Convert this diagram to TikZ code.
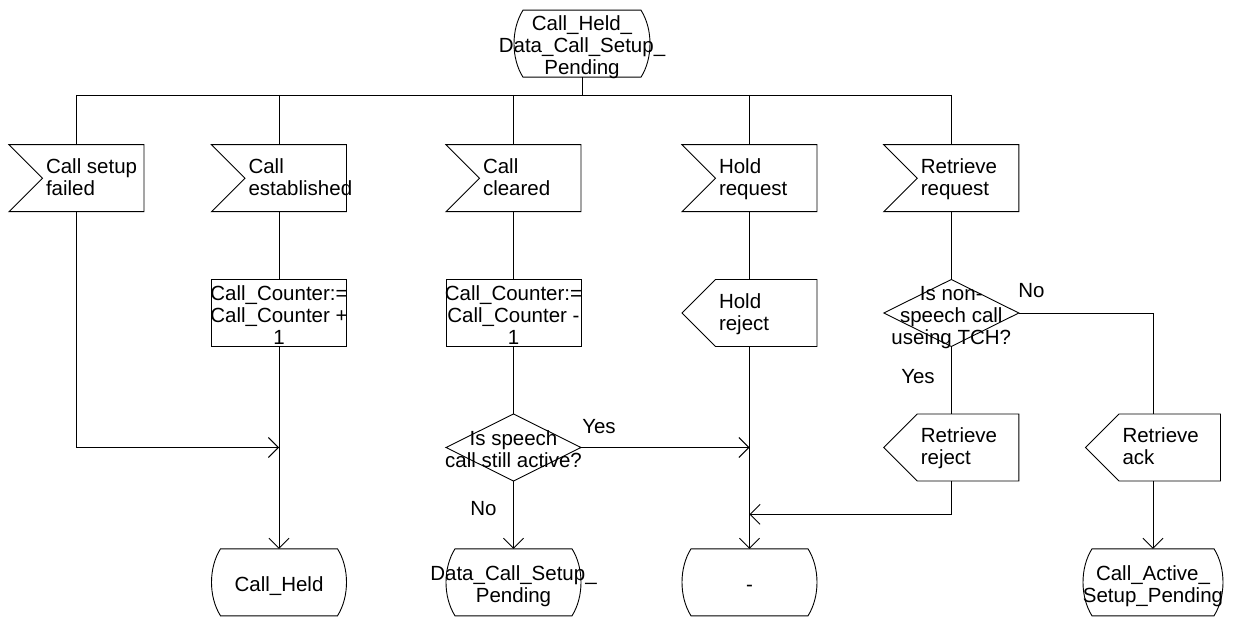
\documentclass[tikz,border=0pt]{standalone}
\usepackage{fontspec}
\setmainfont{Liberation Sans}
\usetikzlibrary{arrows.meta,calc}
\newcommand\ctext[1]{\smash{\makebox[0pt]{\raisebox{-10pt}{\begin{tabular}{@{}c@{}}#1\end{tabular}}}}}
\newcommand\ltext[1]{\smash{\makebox[0pt][l]{\hspace*{-30.5pt}\raisebox{-7pt}{\begin{tabular}{@{}l@{}}#1\end{tabular}}}}}
\newcommand\outSigIn[1]{\draw[shp] (#1.north west) -- (#1.north east) -- (#1.south east) -- (#1.south west) -- ($(#1.west)+(33.5,0)$) -- cycle;}
\newcommand\outSigOut[1]{\draw[shp] ($(#1.north west)+(33.5,0)$) -- (#1.north east) -- (#1.south east) -- ($(#1.south west)+(33.5,0)$) -- (#1.west) -- cycle;}
\newcommand\outDec[1]{\draw[shp] (#1.north) -- (#1.east) -- (#1.south) -- (#1.west) -- cycle;}
\newcommand\outProc[1]{\draw[shp] (#1.north west) rectangle (#1.south east);}
\newcommand\outState[1]{\draw[shp] ($(#1.north west)+(9,0)$) -- ($(#1.north east)+(-9,0)$) .. controls ($(#1.north east)+(3,19)$) and ($(#1.south east)+(3,-19)$) .. ($(#1.south east)+(-9,0)$) -- ($(#1.south west)+(9,0)$) .. controls ($(#1.south west)+(-3,-19)$) and ($(#1.north west)+(-3,19)$) .. cycle;}
\begin{document}
\begin{tikzpicture}[x=1pt,y=-1pt,line width=0.9pt,
  blk/.style={minimum width=135pt,minimum height=67pt,inner sep=0pt,outer sep=0pt,font=\fontsize{20.5}{22}\selectfont},
  lbl/.style={inner sep=0pt,font=\fontsize{20.5}{22}\selectfont},
  shp/.style={draw=black},
  arr/.style={-{Straight Barb[length=10pt,width=20pt]}}]
\useasboundingbox (0,0) rectangle (1235,617);
% nodes
\node[blk,minimum width=136pt] (top) at (582,43.7) {\ctext{Call\_Held\_\\Data\_Call\_Setup\_\\Pending}};
\node[blk] (s1) at (76.5,178.2) {\ltext{Call setup\\failed}};
\node[blk] (s2) at (279,178.2) {\ltext{Call\\established}};
\node[blk] (s3) at (513.5,178.2) {\ltext{Call\\cleared}};
\node[blk] (s4) at (749.5,178.2) {\ltext{Hold\\request}};
\node[blk] (s5) at (951.3,178.2) {\ltext{Retrieve\\request}};
\node[blk] (p1) at (279,313) {\ctext{Call\_Counter:=\\Call\_Counter +\\1}};
\node[blk] (p2) at (513.5,313) {\ctext{Call\_Counter:=\\Call\_Counter -\\1}};
\node[blk] (o1) at (749.5,313) {\ltext{Hold\\reject}};
\node[blk] (d2) at (951.3,313) {\ctext{Is non-\\speech call\\useing TCH?}};
\node[blk] (d1) at (513.5,447.5) {\ctext{Is speech\\call still active?}};
\node[blk] (r2) at (951.3,447.5) {\ltext{Retrieve\\reject}};
\node[blk] (r3) at (1153,447.5) {\ltext{Retrieve\\ack}};
\node[blk] (st1) at (279,582.3) {\ctext{Call\_Held}};
\node[blk] (st2) at (513.5,582.3) {\ctext{Data\_Call\_Setup\_\\Pending}};
\node[blk] (st3) at (749.5,582.3) {\ctext{-}};
\node[blk,minimum width=140pt] (st4) at (1153,582.3) {\ctext{Call\_Active\_\\Setup\_Pending}};
% labels
\node[lbl] (y1) at (599,426.5) {Yes};
\node[lbl] (n1) at (483.5,508.7) {No};
\node[lbl] (n2) at (1031.5,291) {No};
\node[lbl] (y2) at (918,376.5) {Yes};
% outlines
\outState{top}
\foreach \n in {s1,s2,s3,s4,s5} {\outSigIn{\n}}
\outProc{p1}
\outProc{p2}
\outSigOut{o1}
\outSigOut{r2}
\outSigOut{r3}
\outDec{d1}
\outDec{d2}
\foreach \n in {st1,st2,st3,st4} {\outState{\n}}
% connectors
\coordinate (busL) at (76.5,95);
\coordinate (busR) at (951.3,95);
\coordinate (j3) at (749.5,514.3);
\draw (busL) -- (busR);
\draw (top.south) -- (top.south |- busL);
\foreach \n in {s1,s2,s3,s4,s5} {\draw (\n.north |- busL) -- (\n.north);}
\draw[arr] (s1.south) |- (d1.west -| p1.south);
\draw (s2.south) -- (p1.north);
\draw[arr] (p1.south) -- (st1.north);
\draw (s3.south) -- (p2.north);
\draw (p2.south) -- (d1.north);
\draw[arr] (d1.south) -- (st2.north);
\draw[arr] (d1.east) -- (d1.east -| o1.south);
\draw (s4.south) -- (o1.north);
\draw[arr] (o1.south) -- (st3.north);
\draw (s5.south) -- (d2.north);
\draw (d2.south) -- (r2.north);
\draw[arr] (r2.south) |- (j3);
\draw (d2.east) -| (r3.north);
\draw[arr] (r3.south) -- (st4.north);
\end{tikzpicture}
\end{document}
